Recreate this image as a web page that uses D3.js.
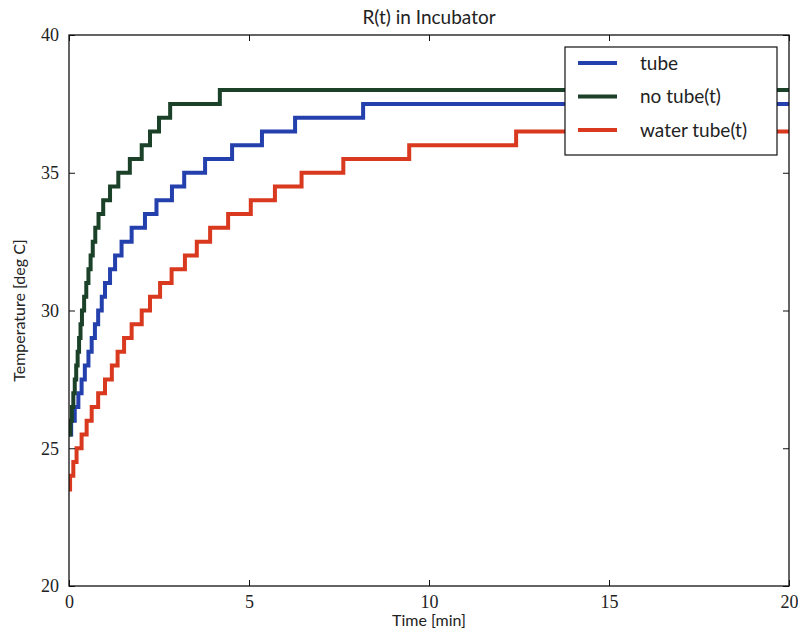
<!DOCTYPE html>
<html>
<head>
<meta charset="utf-8">
<script src="https://cdn.jsdelivr.net/npm/d3@7/dist/d3.min.js"></script>
<style>
  body { margin: 0; background: #fff; }
  #chart { width: 798px; height: 633px; }
</style>
</head>
<body>
<div id="chart"></div>
<script>
// step start times (min) and the temperature level (deg C) held from that time on
var tubeTimes = [0, 0.06, 0.16, 0.26, 0.35, 0.44, 0.54, 0.63, 0.72, 0.81, 0.91, 1.0, 1.14, 1.28, 1.46, 1.74, 2.11, 2.43, 2.86, 3.2, 3.78, 4.53, 5.36, 6.28, 8.17];
var tubeTemps = [25.5, 26, 26.5, 27, 27.5, 28, 28.5, 29, 29.5, 30, 30.5, 31, 31.5, 32, 32.5, 33, 33.5, 34, 34.5, 35, 35.5, 36, 36.5, 37, 37.5];

var noTubeTimes = [0, 0.04, 0.08, 0.12, 0.16, 0.20, 0.24, 0.28, 0.32, 0.36, 0.42, 0.48, 0.54, 0.60, 0.66, 0.73, 0.82, 0.95, 1.14, 1.37, 1.69, 2.02, 2.25, 2.50, 2.81, 4.19];
var noTubeTemps = [25.5, 26, 26.5, 27, 27.5, 28, 28.5, 29, 29.5, 30, 30.5, 31, 31.5, 32, 32.5, 33, 33.5, 34, 34.5, 35, 35.5, 36, 36.5, 37, 37.5, 38];

var waterTimes = [0, 0.03, 0.12, 0.21, 0.35, 0.49, 0.63, 0.81, 1.0, 1.19, 1.35, 1.53, 1.74, 2.02, 2.25, 2.53, 2.85, 3.22, 3.55, 3.92, 4.42, 5.05, 5.72, 6.46, 7.62, 9.45, 12.42];
var waterTemps = [23.5, 24, 24.5, 25, 25.5, 26, 26.5, 27, 27.5, 28, 28.5, 29, 29.5, 30, 30.5, 31, 31.5, 32, 32.5, 33, 33.5, 34, 34.5, 35, 35.5, 36, 36.5];

var seriesNames = ["tube", "no tube(t)", "water tube(t)"];
var seriesColors = ["#2440ad", "#1b4229", "#d8391f"];
var xTicks = [0, 5, 10, 15, 20];
var yTicks = [20, 25, 30, 35, 40];

var width = 798, height = 633;
var margin = { top: 35, left: 69, right: 9, bottom: 47 };
var plotW = width - margin.left - margin.right,
    plotH = height - margin.top - margin.bottom;

var svg = d3.select("#chart").append("svg")
    .attr("width", width)
    .attr("height", height);

var x = d3.scaleLinear().domain([0, 20]).range([0, plotW]);
var y = d3.scaleLinear().domain([20, 40]).range([plotH, 0]);

var g = svg.append("g")
    .attr("transform", "translate(" + margin.left + "," + margin.top + ")");

g.append("defs").append("clipPath").attr("id", "clip")
  .append("rect").attr("width", plotW).attr("height", plotH);

// build the step series, holding the last level out to the end of the axis
function makeSeries(times, temps) {
  var pts = times.map(function(t, i) { return { t: t, v: temps[i] }; });
  pts.push({ t: 20, v: temps[temps.length - 1] });
  return pts;
}
var series = [
  makeSeries(tubeTimes, tubeTemps),
  makeSeries(noTubeTimes, noTubeTemps),
  makeSeries(waterTimes, waterTemps)
];

var line = d3.line()
    .x(function(d) { return x(d.t); })
    .y(function(d) { return y(d.v); })
    .curve(d3.curveStepAfter);

g.append("g").attr("clip-path", "url(#clip)")
  .selectAll("path")
  .data(series)
  .enter().append("path")
  .attr("d", line)
  .attr("fill", "none")
  .attr("stroke", function(d, i) { return seriesColors[i]; })
  .attr("stroke-width", 4)
  .attr("stroke-linejoin", "miter");

// ticks inward on all four sides, like matplotlib classic
var tickFont = "'Liberation Serif', 'DejaVu Serif', serif";
var xBottom = d3.axisBottom(x).tickValues(xTicks).tickSizeInner(-6).tickSizeOuter(0).tickPadding(9);
var xTop = d3.axisTop(x).tickValues(xTicks).tickSizeInner(-6).tickSizeOuter(0).tickFormat("");
var yLeft = d3.axisLeft(y).tickValues(yTicks).tickSizeInner(-6).tickSizeOuter(0).tickPadding(10);
var yRight = d3.axisRight(y).tickValues(yTicks).tickSizeInner(-6).tickSizeOuter(0).tickFormat("");

function styleAxis(sel) {
  sel.select(".domain").remove();
  sel.selectAll("line").attr("stroke", "#111");
  sel.selectAll("text").attr("font-family", tickFont).attr("font-size", 18).attr("fill", "#222");
}
g.append("g").attr("transform", "translate(0," + plotH + ")").call(xBottom).call(styleAxis);
g.append("g").call(xTop).call(styleAxis);
g.append("g").call(yLeft).call(styleAxis);
g.append("g").attr("transform", "translate(" + plotW + ",0)").call(yRight).call(styleAxis);

g.append("rect")
  .attr("width", plotW).attr("height", plotH)
  .attr("fill", "none").attr("stroke", "#111").attr("stroke-width", 1.3);

var sans = "Lato, 'Open Sans', sans-serif";

svg.append("text")
  .attr("x", margin.left + plotW / 2).attr("y", 24)
  .attr("text-anchor", "middle")
  .attr("font-family", sans).attr("font-size", 19).attr("fill", "#222")
  .text("R(t) in Incubator");

svg.append("text")
  .attr("x", margin.left + plotW / 2).attr("y", 626)
  .attr("text-anchor", "middle")
  .attr("font-family", sans).attr("font-size", 16).attr("fill", "#222")
  .text("Time [min]");

svg.append("text")
  .attr("transform", "translate(25," + (margin.top + plotH / 2) + ") rotate(-90)")
  .attr("text-anchor", "middle")
  .attr("font-family", sans).attr("font-size", 16).attr("fill", "#222")
  .text("Temperature [deg C]");

// legend
var legend = svg.append("g").attr("transform", "translate(565,47)");
legend.append("rect")
  .attr("width", 212).attr("height", 108)
  .attr("fill", "#fff").attr("stroke", "#111").attr("stroke-width", 1.2);

var items = legend.selectAll(".item")
  .data(seriesNames)
  .enter().append("g")
  .attr("class", "item")
  .attr("transform", function(d, i) { return "translate(0," + (16 + i * 33.5) + ")"; });

items.append("line")
  .attr("x1", 13).attr("x2", 52)
  .attr("stroke", function(d, i) { return seriesColors[i]; })
  .attr("stroke-width", 4);

items.append("text")
  .attr("x", 75).attr("dy", "0.35em")
  .attr("font-family", sans).attr("font-size", 19).attr("fill", "#222")
  .text(function(d) { return d; });
</script>
</body>
</html>
